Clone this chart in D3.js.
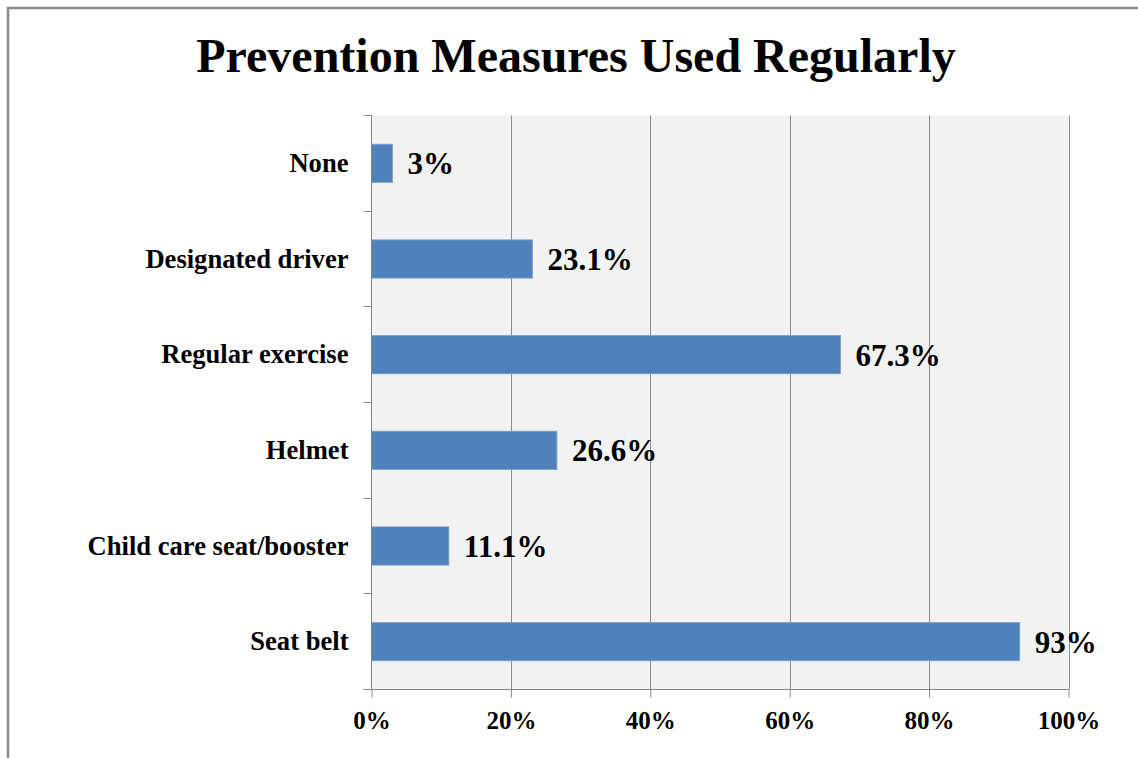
<!DOCTYPE html>
<html>
<head>
<meta charset="utf-8">
<script src="https://cdn.jsdelivr.net/npm/d3@7"></script>
<style>
  body { margin: 0; background: #fff; }
  text { font-family: "Liberation Serif", "Times New Roman", serif; font-weight: bold; fill: #000; }
</style>
</head>
<body>
<svg></svg>
<script>
const categories = ["Seat belt", "Child care seat/booster", "Helmet", "Regular exercise", "Designated driver", "None"];
const values = [93, 11.1, 26.6, 67.3, 23.1, 3];
const valueLabels = ["93%", "11.1%", "26.6%", "67.3%", "23.1%", "3%"];
const xTicks = [0, 20, 40, 60, 80, 100];

const width = 1138;
const height = 758;
const plotLeft = 371.5, plotRight = 1068.5, plotTop = 115.5, plotBottom = 689.5;

const data = categories.map((c, i) => ({ cat: c, value: values[i], label: valueLabels[i] }));

const svg = d3.select('svg')
    .attr("width", width)
    .attr("height", height);

// outer chart border (only left/top visible in the frame)
svg.append("rect")
    .attr("x", 8)
    .attr("y", 8)
    .attr("width", width + 10)
    .attr("height", height + 10)
    .attr("fill", "#fff")
    .attr("stroke", "#8a8a8a")
    .attr("stroke-width", 2.5);

svg.append("text")
    .attr("x", 576)
    .attr("y", 72)
    .style("text-anchor", "middle")
    .style("font-size", "48px")
    .text("Prevention Measures Used Regularly");

const xScale = d3.scaleLinear()
    .domain([0, 100])
    .range([plotLeft, plotRight]);

const yScale = d3.scaleBand()
    .domain(categories)
    .range([plotBottom, plotTop])
    .paddingInner(0.6)
    .paddingOuter(0.3);

// plot background
svg.append("rect")
    .attr("x", plotLeft)
    .attr("y", plotTop)
    .attr("width", plotRight - plotLeft)
    .attr("height", plotBottom - plotTop)
    .attr("fill", "#f2f2f2");

// vertical gridlines
svg.append("g")
  .selectAll("line")
    .data(xTicks.slice(1))
    .enter()
    .append("line")
    .attr("x1", d => Math.round(xScale(d)) + 0.5)
    .attr("x2", d => Math.round(xScale(d)) + 0.5)
    .attr("y1", plotTop)
    .attr("y2", plotBottom)
    .attr("stroke", "#8c8c8c")
    .attr("stroke-width", 1);

// bars
svg.append("g")
  .selectAll("rect")
    .data(data)
    .enter()
    .append("rect")
    .attr("x", xScale(0))
    .attr("y", d => yScale(d.cat))
    .attr("width", d => xScale(d.value) - xScale(0))
    .attr("height", yScale.bandwidth())
    .attr("fill", "#4f81bd")
    .attr("stroke", "#7da0cc")
    .attr("stroke-width", 0.8);

// value labels
svg.append("g")
  .selectAll("text")
    .data(data)
    .enter()
    .append("text")
    .attr("x", d => xScale(d.value) + 15)
    .attr("y", d => yScale(d.cat) + yScale.bandwidth() / 2)
    .attr("dy", "0.35em")
    .style("font-size", "31px")
    .text(d => d.label);

// x axis
const xAxis = d3.axisBottom(xScale)
    .tickValues(xTicks)
    .tickSize(8)
    .tickPadding(14)
    .tickFormat(d => d + "%");

const gx = svg.append("g")
    .attr("transform", `translate(0,${plotBottom})`)
    .call(xAxis);
gx.select(".domain").attr("stroke", "#868686").attr("d", `M${plotLeft - 8},0H${plotRight}`);
gx.selectAll(".tick line").attr("stroke", "#868686");
gx.selectAll(".tick text")
    .style("font-size", "25px")
    .style("font-family", "'Liberation Serif', serif")
    .style("font-weight", "bold")
    .attr("fill", "#000");

// y axis: labels at band centres, ticks at band boundaries
const yAxis = d3.axisLeft(yScale)
    .tickSize(0)
    .tickPadding(23);

const gy = svg.append("g")
    .attr("transform", `translate(${plotLeft},0)`)
    .call(yAxis);
gy.select(".domain").attr("stroke", "#868686").attr("d", `M0,${plotTop}V${plotBottom}`);
gy.selectAll(".tick text")
    .style("font-size", "26.6px")
    .style("font-family", "'Liberation Serif', serif")
    .style("font-weight", "bold")
    .attr("fill", "#000");

const step = yScale.step();
const bounds = categories.map(c => yScale(c) + yScale.bandwidth() / 2 + step / 2);
bounds.push(yScale(categories[categories.length - 1]) + yScale.bandwidth() / 2 - step / 2);

gy.selectAll(".bound")
    .data(bounds)
    .enter()
    .append("line")
    .attr("x1", -8)
    .attr("x2", 0)
    .attr("y1", d => Math.round(d - 0.5) + 0.5)
    .attr("y2", d => Math.round(d - 0.5) + 0.5)
    .attr("stroke", "#868686");
</script>
</body>
</html>
